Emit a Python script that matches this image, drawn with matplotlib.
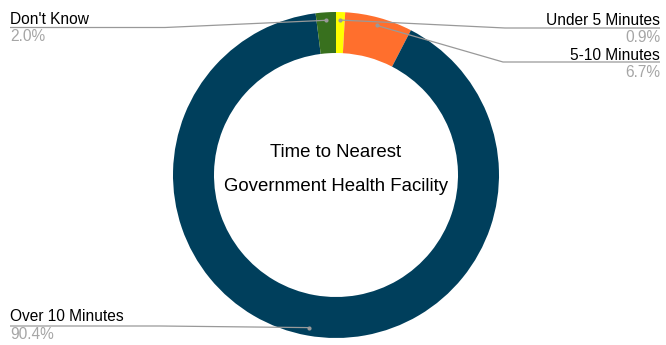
import numpy as np
import matplotlib.pyplot as plt

plt.rcParams["font.family"] = ["Liberation Sans", "DejaVu Sans"]

categories = ["Under 5 Minutes", "5-10 Minutes", "Over 10 Minutes", "Don't Know"]
shares = [0.9, 6.7, 90.4, 2.0]
colors = ["#FFFF00", "#FF6F2D", "#003F5C", "#38701E"]
pct_labels = ["0.9%", "6.7%", "90.4%", "2.0%"]

W, H = 666, 345
fig = plt.figure(figsize=(W / 100, H / 100), dpi=100)
ax = fig.add_axes([0, 0, 1, 1])

# donut in pixel-like coordinates (y measured from the top via H - y)
cx, cy = 336, H - 175
R, r_in = 163, 122
wedges, _ = ax.pie(shares, colors=colors, startangle=90, counterclock=False,
                   radius=R, center=(cx, cy), frame=True,
                   wedgeprops=dict(width=R - r_in, linewidth=0))
ax.set_xlim(0, W)
ax.set_ylim(0, H)
ax.set_aspect("equal")
ax.axis("off")

# label layout: text x, alignment, name baseline, line y, elbow x, pct baseline
layout = {
    "Under 5 Minutes": (660, "right", 25, 28, 505, 42),
    "5-10 Minutes": (660, "right", 60, 62, 503, 77),
    "Over 10 Minutes": (10, "left", 321, 326, 160, 339),
    "Don't Know": (10, "left", 24, 27.5, 165, 41),
}

r_dot = 155
for w, name, pct in zip(wedges, categories, pct_labels):
    tx, ha, name_y, line_y, elbow_x, pct_y = layout[name]
    ang = np.deg2rad((w.theta1 + w.theta2) / 2)
    px = cx + r_dot * np.cos(ang)
    py = cy + r_dot * np.sin(ang)
    ax.plot([px, elbow_x, tx], [py, H - line_y, H - line_y],
            color="#999999", lw=0.9, solid_capstyle="butt")
    ax.plot(px, py, "o", ms=3, color="#999999", mec="none")
    ax.text(tx, H - name_y, name, ha=ha, va="baseline",
            fontsize=11.2, color="#000000")
    ax.text(tx, H - pct_y, pct, ha=ha, va="baseline",
            fontsize=11.2, color="#A6A6A6")

ax.text(cx, H - 157, "Time to Nearest", ha="center", va="baseline",
        fontsize=13.4, color="#000000")
ax.text(cx, H - 191, "Government Health Facility", ha="center",
        va="baseline", fontsize=13.4, color="#000000")

fig.savefig("out.png", dpi=100, facecolor="white")
